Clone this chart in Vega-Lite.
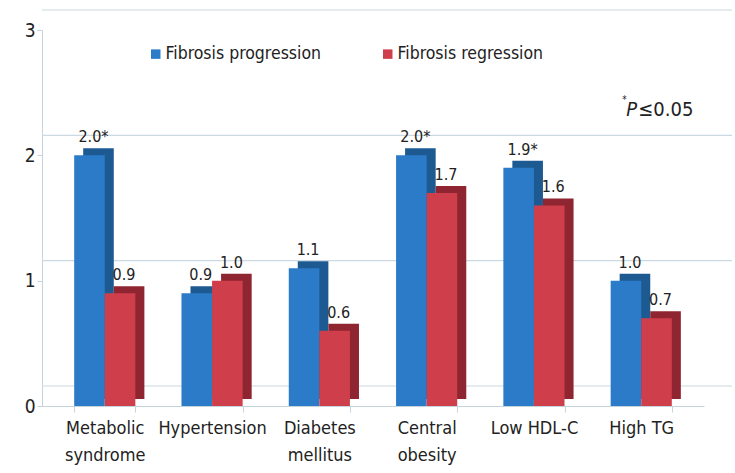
{
  "$schema": "https://vega.github.io/schema/vega-lite/v6.json",
  "autosize": "none",
  "width": 662,
  "height": 376,
  "padding": {"left": 42, "top": 30, "right": 31, "bottom": 67},
  "background": "white",
  "config": {
    "view": {"stroke": null},
    "font": "Liberation Sans Narrow, DejaVu Sans Condensed, Liberation Sans, sans-serif"
  },
  "datasets": {
    "bars": [
      {"category": "Metabolic syndrome", "series": "Fibrosis progression", "value": 2.0, "label": "2.0*"},
      {"category": "Metabolic syndrome", "series": "Fibrosis regression", "value": 0.9, "label": "0.9"},
      {"category": "Hypertension", "series": "Fibrosis progression", "value": 0.9, "label": "0.9"},
      {"category": "Hypertension", "series": "Fibrosis regression", "value": 1.0, "label": "1.0"},
      {"category": "Diabetes mellitus", "series": "Fibrosis progression", "value": 1.1, "label": "1.1"},
      {"category": "Diabetes mellitus", "series": "Fibrosis regression", "value": 0.6, "label": "0.6"},
      {"category": "Central obesity", "series": "Fibrosis progression", "value": 2.0, "label": "2.0*"},
      {"category": "Central obesity", "series": "Fibrosis regression", "value": 1.7, "label": "1.7"},
      {"category": "Low HDL-C", "series": "Fibrosis progression", "value": 1.9, "label": "1.9*"},
      {"category": "Low HDL-C", "series": "Fibrosis regression", "value": 1.6, "label": "1.6"},
      {"category": "High TG", "series": "Fibrosis progression", "value": 1.0, "label": "1.0"},
      {"category": "High TG", "series": "Fibrosis regression", "value": 0.7, "label": "0.7"}
    ],
    "grid": [{"v": 0}, {"v": 1}, {"v": 2}, {"v": 3}],
    "note": [{"category": "High TG", "y": 2.36}]
  },
  "resolve": {"scale": {"xOffset": "independent"}},
  "layer": [
    {
      "data": {"name": "grid"},
      "mark": {"type": "rule", "color": "#cbd9e2", "strokeWidth": 1.2, "xOffset": 28, "x2Offset": 28, "yOffset": -20},
      "encoding": {
        "y": {"field": "v", "type": "quantitative", "scale": {"domain": [0, 3]}}
      }
    },
    {
      "data": {"name": "bars"},
      "mark": {"type": "bar", "yOffset": -7, "y2Offset": -7},
      "encoding": {
        "x": {
          "field": "category", "type": "nominal", "sort": null,
          "scale": {"paddingInner": 0.43, "paddingOuter": 0.3},
          "axis": {
            "title": null, "labelAngle": 0, "tickBand": "extent",
            "domainColor": "#c5d3dc", "tickColor": "#c5d3dc", "tickSize": 6,
            "labelFontSize": 18, "labelColor": "#222", "labelPadding": 7,
            "labelLineHeight": 27, "labelBaseline": "top",
            "labelExpr": "indexof(['Low HDL-C','High TG','Hypertension'], datum.label) >= 0 ? datum.label : split(datum.label, ' ')"
          }
        },
        "xOffset": {"field": "series", "type": "nominal", "scale": {"paddingInner": 0, "range": [9, 70.2]}},
        "y": {
          "field": "value", "type": "quantitative",
          "scale": {"domain": [0, 3]},
          "axis": {
            "title": null, "values": [0, 1, 2, 3], "grid": false, "format": "d",
            "domainColor": "#c5d3dc", "tickColor": "#c5d3dc", "tickSize": 5,
            "labelFontSize": 19, "labelColor": "#222", "labelPadding": 2
          }
        },
        "color": {
          "condition": {"test": "datum.series === 'Fibrosis progression'", "value": "#1e5a92"},
          "value": "#8e2531"
        }
      }
    },
    {
      "data": {"name": "bars"},
      "mark": {"type": "bar"},
      "encoding": {
        "x": {"field": "category", "type": "nominal", "sort": null},
        "xOffset": {"field": "series", "type": "nominal", "scale": {"paddingInner": 0}},
        "y": {"field": "value", "type": "quantitative"},
        "color": {
          "field": "series", "type": "nominal",
          "scale": {"domain": ["Fibrosis progression", "Fibrosis regression"], "range": ["#2b7bc8", "#cf3f4b"]},
          "legend": {
            "title": null, "orient": "none", "direction": "horizontal",
            "legendX": 105, "legendY": 15,
            "symbolType": "square", "symbolSize": 90, "symbolStrokeWidth": 0,
            "labelFontSize": 17.5, "labelColor": "#222", "labelOffset": 1,
            "columnPadding": 57
          }
        }
      }
    },
    {
      "data": {"name": "bars"},
      "mark": {"type": "text", "baseline": "bottom", "dy": -10, "dx": 4, "fontSize": 16, "color": "#222"},
      "encoding": {
        "x": {"field": "category", "type": "nominal", "sort": null},
        "xOffset": {"field": "series", "type": "nominal", "scale": {"paddingInner": 0}},
        "y": {"field": "value", "type": "quantitative"},
        "text": {"field": "label"}
      }
    },
    {
      "data": {"name": "note"},
      "mark": {"type": "text", "align": "left", "baseline": "middle", "dx": -19, "dy": -10, "fontSize": 10, "color": "#222", "text": "*"},
      "encoding": {
        "x": {"field": "category", "type": "nominal", "sort": null},
        "y": {"field": "y", "type": "quantitative"}
      }
    },
    {
      "data": {"name": "note"},
      "mark": {"type": "text", "align": "left", "baseline": "middle", "dx": -15, "fontSize": 20, "fontStyle": "italic", "color": "#222", "text": "P"},
      "encoding": {
        "x": {"field": "category", "type": "nominal", "sort": null},
        "y": {"field": "y", "type": "quantitative"}
      }
    },
    {
      "data": {"name": "note"},
      "mark": {"type": "text", "align": "left", "baseline": "middle", "dx": -3, "fontSize": 20, "color": "#222", "text": "≤0.05"},
      "encoding": {
        "x": {"field": "category", "type": "nominal", "sort": null},
        "y": {"field": "y", "type": "quantitative"}
      }
    }
  ]
}
